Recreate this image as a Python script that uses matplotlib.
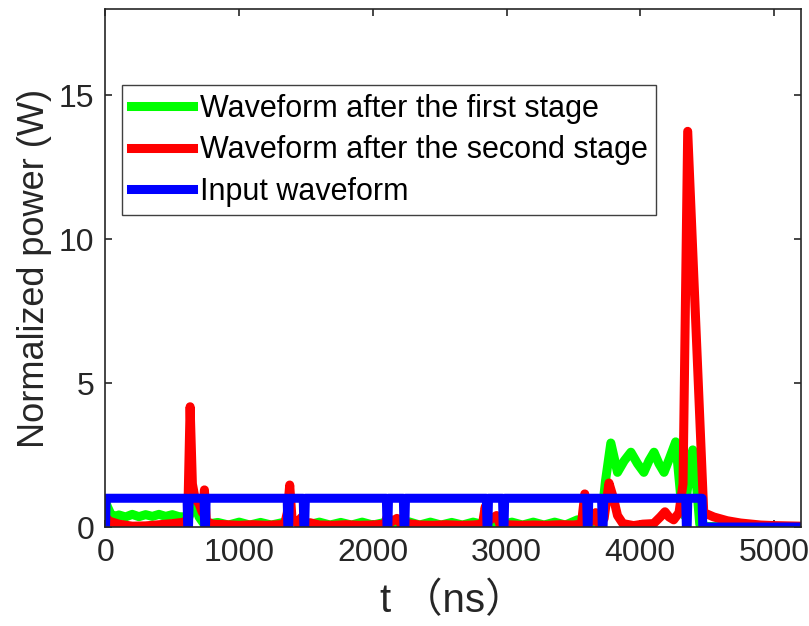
import matplotlib
matplotlib.use("Agg")
import matplotlib.pyplot as plt

plt.rcParams['font.family'] = ['Liberation Sans', 'Noto Sans CJK SC', 'DejaVu Sans']

# Output of the first amplifier stage (time in ns, power in W)
green_t = [0, 15, 40, 70, 100, 150, 200, 250, 300, 350, 400, 450, 500, 550, 600,
           620, 645, 670, 700, 730, 760,
           840, 920, 1000, 1080, 1160, 1240, 1320, 1360, 1400, 1440, 1480, 1520,
           1600, 1680, 1760, 1840, 1920, 2000, 2080, 2110, 2150, 2190, 2230, 2270,
           2350, 2430, 2510, 2590, 2670, 2750, 2830, 2860, 2900, 2940, 2980, 3040,
           3120, 3200, 3280, 3360, 3440, 3530, 3580, 3610, 3650, 3690,
           3710, 3740, 3780, 3830, 3880, 3930, 3980, 4027, 4065, 4103, 4140, 4178,
           4220, 4265, 4300, 4330, 4360, 4393, 4420, 4445, 4500, 4700, 5200]
green_p = [0.9, 0.7, 0.45, 0.36, 0.42, 0.35, 0.44, 0.36, 0.43, 0.37, 0.44, 0.37, 0.43, 0.36, 0.35,
           0.3, 0.6, 0.75, 0.35, 0.15, 0.1,
           0.16, 0.07, 0.17, 0.07, 0.16, 0.07, 0.15, 0.1, 0.25, 0.12, 0.2, 0.08,
           0.17, 0.07, 0.16, 0.07, 0.17, 0.07, 0.15, 0.25, 0.1, 0.22, 0.08, 0.18,
           0.07, 0.17, 0.07, 0.16, 0.07, 0.17, 0.08, 0.25, 0.1, 0.2, 0.1, 0.17,
           0.07, 0.17, 0.07, 0.17, 0.07, 0.25, 0.1, 0.2, 0.1, 0.15,
           0.3, 1.6, 2.92, 1.9, 2.3, 2.6, 2.2, 1.9, 2.3, 2.6, 2.2, 1.9,
           2.4, 2.96, 1.2, 0.4, 1.6, 2.68, 1.5, 0.1, 0.02, 0.0, 0.0]

# Output of the second amplifier stage
red_t = [0, 30, 100, 200, 300, 400, 500, 590, 615, 633, 650, 670, 700, 725, 740, 755,
         800, 900, 1000, 1100, 1200, 1300, 1340, 1360, 1378, 1395, 1430, 1470, 1490, 1530,
         1600, 1700, 1800, 1900, 2000, 2090, 2110, 2130, 2180, 2210, 2260,
         2350, 2450, 2550, 2650, 2750, 2820, 2840, 2860, 2925, 2950, 3000,
         3100, 3200, 3300, 3400, 3500, 3560, 3585, 3605, 3640, 3667, 3690,
         3730, 3766, 3800, 3830, 3870, 3950, 4020, 4100, 4150, 4185, 4215, 4250,
         4290, 4320, 4355, 4475, 4550, 4650, 4750, 4900, 5000, 5200]
red_p = [0.35, 0.2, 0.1, 0.03, 0.04, 0.08, 0.12, 0.17, 0.3, 4.18, 1.5, 1.0, 0.8, 0.5, 1.29, 0.2,
         0.1, 0.08, 0.06, 0.08, 0.06, 0.08, 0.1, 0.5, 1.46, 0.3, 0.15, 0.35, 0.1, 0.15,
         0.07, 0.06, 0.08, 0.06, 0.07, 0.1, 0.4, 0.15, 0.3, 0.1, 0.12,
         0.07, 0.06, 0.08, 0.06, 0.07, 0.1, 0.7, 0.2, 0.4, 0.1, 0.08,
         0.06, 0.07, 0.06, 0.08, 0.07, 0.1, 1.15, 0.3, 0.2, 0.5, 0.1,
         0.3, 1.53, 1.0, 0.4, 0.12, 0.05, 0.1, 0.12, 0.35, 0.53, 0.35, 0.25,
         0.5, 1.5, 13.75, 0.5, 0.35, 0.22, 0.14, 0.07, 0.05, 0.03]

# Input pulse train: unit level with narrow gaps, off after the last pulse
gap_times = [618, 745, 1367, 1487, 2109, 2236, 2857, 2978, 3607, 3719, 4348]
pulse_end = 4468
t_end = 5200

blue_t = [0, 5]
blue_p = [0, 1]
for g in gap_times:
    blue_t += [g - 8, g - 3, g + 3, g + 8]
    blue_p += [1, 0, 0, 1]
blue_t += [pulse_end - 6, pulse_end, t_end]
blue_p += [1, 0, 0]

fig = plt.figure(figsize=(8.09, 6.26), dpi=100)
ax = fig.add_axes([0.1304, 0.1581, 0.8593, 0.8275])

lw = 6.5
ax.plot(green_t, green_p, color=(0, 1, 0), lw=lw, solid_joinstyle='round',
        label='Waveform after the first stage')
ax.plot(red_t, red_p, color=(1, 0, 0), lw=lw, solid_joinstyle='round',
        label='Waveform after the second stage')
ax.plot(blue_t, blue_p, color=(0, 0, 1), lw=lw, solid_joinstyle='round',
        label='Input waveform')

ax.set_xlim(0, 5200)
ax.set_ylim(0, 18)
ax.set_xticks([0, 1000, 2000, 3000, 4000, 5000])
ax.set_yticks([0, 5, 10, 15])

dark = '#262626'
for s in ax.spines.values():
    s.set_color(dark)
    s.set_linewidth(1.2)
ax.tick_params(direction='in', length=5, width=1.2, color=dark, labelcolor=dark,
               labelsize=23, top=True, right=True, pad=8)

ax.set_xlabel('t （ns）', fontsize=29, color=dark, labelpad=10)
ax.set_ylabel('Normalized power (W)', fontsize=26, color=dark, labelpad=5)

leg = ax.legend(loc='upper left', bbox_to_anchor=(0.0237, 0.853), borderaxespad=0,
                fontsize=22, frameon=True, fancybox=False, framealpha=1,
                handlelength=2.06, handletextpad=0.2, labelspacing=0.38,
                borderpad=0.28)
leg.get_frame().set_edgecolor('#404040')
leg.get_frame().set_linewidth(1.0)

fig.savefig('out.png', dpi=100)
